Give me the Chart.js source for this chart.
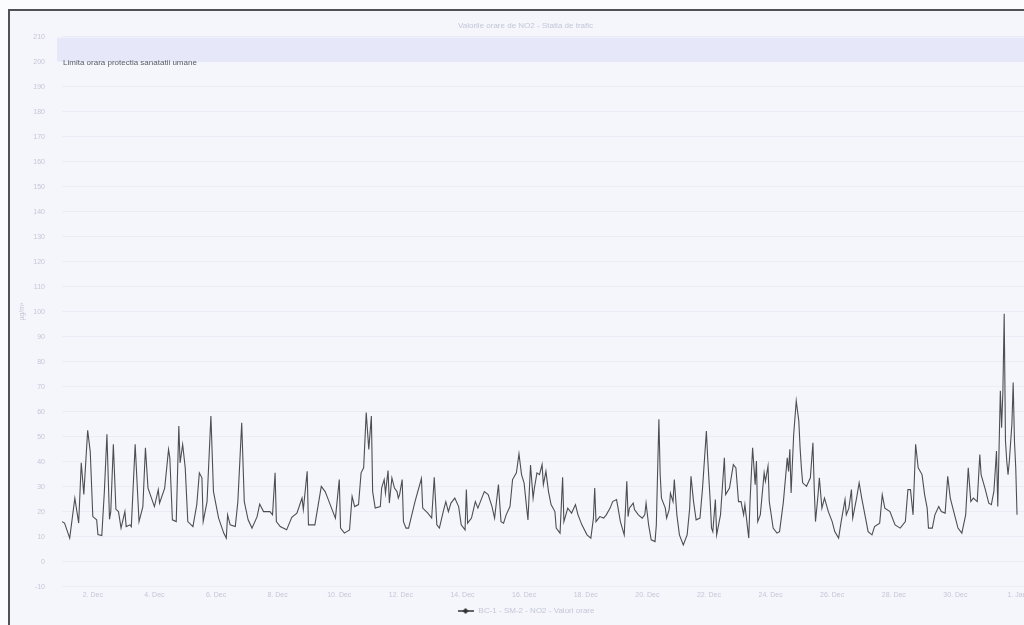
<!DOCTYPE html>
<html>
<head>
<meta charset="utf-8">
<script src="https://cdn.jsdelivr.net/npm/chart.js@4.4.1/dist/chart.umd.min.js"></script>
<style>
  html, body { margin: 0; padding: 0; width: 1024px; height: 625px; overflow: hidden; background: #fbfcfe; }
  #frame { position: absolute; left: 8px; top: 9px; right: -200px; bottom: -200px;
           border-left: 2px solid #505258; border-top: 2px solid #505258; background: #f4f6fc; }
  #wrap { position: absolute; left: 0; top: 0; width: 1050px; height: 625px; }
</style>
</head>
<body>
<div id="frame"></div>
<div id="wrap"><canvas id="c" width="1050" height="625"></canvas></div>
<script>
// ---- data ----
const chartTitle = "Valorile orare de NO2 - Statia de trafic";
const seriesName = "BC-1 - SM-2 - NO2 - Valori orare";
const yTitle = "µg/m³";
const limitLabel = "Limita orara protectia sanatatii umane";
const limitValue = 200;
const limitTop = 210;
const xTickHours = [24, 72, 120, 168, 216, 264, 312, 360, 408, 456, 504, 552, 600, 648, 696, 744];
const xTickLabels = ["2. Dec", "4. Dec", "6. Dec", "8. Dec", "10. Dec", "12. Dec", "14. Dec", "16. Dec",
                     "18. Dec", "20. Dec", "22. Dec", "24. Dec", "26. Dec", "28. Dec", "30. Dec", "1. Jan"];
// hours since 1 Dec 00:00
const hours = [0,2,6,10,13,15,17,20,22,24,27,28,31,33,35,37,38,40,42,44,46,49,50,53,54,57,60,63,65,67,72,75,76,80,83,84,86,89,91,92,94,96,98,102,105,107,109,110,113,116,118,122,126,128,129,131,135,137,140,142,145,148,152,154,157,162,164,166,167,170,175,179,183,187,188,191,192,197,202,205,207,211,213,216,217,220,224,226,228,231,233,235,237,239,241,242,244,248,249,251,252,254,255,257,259,261,262,263,265,266,268,270,275,280,281,285,288,290,292,294,297,299,301,303,306,309,311,314,315,316,319,322,324,327,329,332,335,337,340,342,344,346,349,351,354,356,358,360,362,363,365,367,368,370,372,374,375,377,379,381,384,385,388,390,391,394,397,400,402,405,409,412,414,415,416,419,422,424,427,429,432,433,435,438,440,441,442,445,446,449,452,454,455,457,459,462,463,465,466,467,470,471,473,474,476,477,479,481,484,487,489,490,492,494,497,499,502,503,505,506,507,509,510,513,516,517,520,523,525,527,529,531,532,535,536,538,540,541,542,544,547,548,550,551,554,557,559,562,565,566,567,568,570,572,574,575,576,577,580,583,585,586,587,589,590,592,594,597,600,602,605,607,610,611,613,615,616,619,621,623,626,628,631,633,637,639,641,645,649,653,657,659,661,663,665,667,670,672,674,675,678,680,683,685,688,690,692,695,698,701,704,706,708,710,713,715,716,719,722,724,726,728,729,731,732,733,734,735,736,737,738,740,741,742,743,744];
const values = [16,15.4,9.4,25.4,15.4,39.5,26.9,52.5,44,18,16.7,10.8,10.4,28,50.9,16.9,20,46.9,20.9,20,13.4,20,14,14.7,14,46.9,16,22,45.5,29.4,22,28.8,23.4,29.4,44.9,41.5,16.7,16,54.2,39.5,46.9,37.5,16,14,22.8,35.5,33.5,16,24,58.2,28,17.4,11.4,9.4,18.7,14.7,14,24,55.5,24,16.7,13.4,18,23,20,20,18.7,35.5,16,14,12.7,17.7,19.4,25.4,20.8,36.1,14.7,14.7,30.1,28,25.4,20,17.4,32.8,13.4,11.4,12.7,26.1,22,22.8,35.5,37.5,59.6,44.9,58.2,28,21.4,22,29.4,32.8,27.4,36.4,23.4,33.5,29.4,28,25.4,26.8,32.8,16,13.4,13.4,24,33.2,21.4,19.4,17.4,33.7,14.7,13.4,20,24,20,23.4,25.4,22,14.7,12.7,28.8,15.4,17.4,24,21.4,25.4,28,26.8,22,17.4,30.8,16,15.4,18.7,22,32.8,35.5,43.1,34.8,31.4,21.4,16.7,38.6,25.4,29.4,35.5,34.8,38.8,30.8,36.1,28,22.8,20,13.4,11.4,33.7,16,21.4,19.4,22.8,18.7,14.7,10.7,9.4,17.4,29.4,16,18,17.4,18.7,21.4,24,24.8,22,16,10.7,32.1,18,21.4,23.4,20.8,18.7,17.4,18.7,23.4,14.7,8.7,8,14.7,56.9,34.8,25.4,21.4,17.4,20.8,27.4,24,32.8,18.7,10.7,6.7,10.7,21.4,34.1,24,16.7,17.4,29.4,52.2,41.5,24,13.4,12,24.8,10.7,18.7,41.5,26.8,29.4,38.8,37.5,24,24,18.7,22.8,9.4,24,45.5,30.8,40.2,16,18.7,35.5,32.1,38.2,24,13.4,11.4,12,24,41.5,36.1,44.9,27.4,50.8,64.3,56.2,45.5,37.5,31.5,30.1,33.5,47.5,29.4,16,26.8,33.5,21.4,25.4,20,16,12,9.4,16,24.8,18.7,21.4,28.8,17.4,25.4,31.5,25.4,17.4,12,10.7,14,15.4,26.8,21.4,20,14.7,13.4,16,28.8,28.8,18.7,46.9,37.5,34.8,26.8,21.4,13.4,13.4,18.7,22,20,19.4,34.1,25.4,19.4,13.4,11.4,18.7,37.5,24,25.4,24,42.8,34.8,29.4,23.4,22.8,28.2,44.2,22,68.3,53.5,68.3,99.1,48.2,40.2,34.8,40.2,55,71.6,48.2,37.5,18.7];

const points = hours.map((h, i) => ({ x: h, y: values[i] }));

// legend symbol: line with a small diamond
const sym = document.createElement('canvas');
sym.width = 16; sym.height = 8;
(function () {
  const g = sym.getContext('2d');
  g.strokeStyle = '#333'; g.lineWidth = 1.5;
  g.beginPath(); g.moveTo(0, 4); g.lineTo(16, 4); g.stroke();
  g.fillStyle = '#333';
  g.beginPath(); g.moveTo(8, 1); g.lineTo(11, 4); g.lineTo(8, 7); g.lineTo(5, 4); g.closePath(); g.fill();
})();

const FONT = '"Liberation Sans", Arial, sans-serif';

const bandPlugin = {
  id: 'band',
  beforeDatasetsDraw(chart) {
    const { ctx, chartArea, scales: { y } } = chart;
    const yTop = y.getPixelForValue(limitTop);
    const yBot = y.getPixelForValue(limitValue);
    ctx.save();
    ctx.fillStyle = 'rgba(228,230,247,0.9)';
    ctx.fillRect(chartArea.left - 5, yTop + 1, chartArea.right - chartArea.left + 5, yBot - yTop - 1);
    ctx.font = '8px ' + FONT;
    ctx.fillStyle = '#5a5c66';
    ctx.textBaseline = 'middle';
    ctx.fillText(limitLabel, chartArea.left + 1, yBot + 1);
    ctx.restore();
  },
  afterDraw(chart) {
    const { ctx, chartArea } = chart;
    ctx.save();
    ctx.translate(22, (chartArea.top + chartArea.bottom) / 2);
    ctx.rotate(-Math.PI / 2);
    ctx.font = '7px ' + FONT;
    ctx.fillStyle = '#c4c7d6';
    ctx.textAlign = 'center';
    ctx.textBaseline = 'middle';
    ctx.fillText(yTitle, 0, 0);
    ctx.restore();
  }
};

new Chart(document.getElementById('c'), {
  type: 'line',
  data: {
    datasets: [{
      label: seriesName,
      data: points,
      borderColor: '#4e4e52',
      borderWidth: 1.1,
      pointRadius: 0,
      tension: 0,
      fill: false
    }]
  },
  options: {
    responsive: false,
    animation: false,
    layout: { padding: { left: 16, right: 15, top: 0, bottom: 0 } },
    plugins: {
      title: {
        display: true,
        text: chartTitle,
        color: '#c4c7d6',
        font: { family: FONT, size: 8, weight: 'normal' },
        padding: { top: 21, bottom: 6 }
      },
      legend: {
        position: 'bottom',
        labels: {
          usePointStyle: true,
          pointStyle: sym,
          pointStyleWidth: 18,
          color: '#c4c7d6',
          font: { family: FONT, size: 8 },
          padding: 4
        }
      },
      tooltip: { enabled: false }
    },
    scales: {
      x: {
        type: 'linear',
        min: 0,
        max: 758,
        afterBuildTicks(scale) { scale.ticks = xTickHours.map(v => ({ value: v })); },
        ticks: {
          autoSkip: false,
          maxRotation: 0,
          padding: 4,
          color: '#c4c7d6',
          font: { family: FONT, size: 7 },
          callback(v) { const i = xTickHours.indexOf(v); return i >= 0 ? xTickLabels[i] : ''; }
        },
        grid: { display: false, drawTicks: false },
        border: { display: false }
      },
      y: {
        min: -10,
        max: 210,
        afterFit(scale) { scale.width = 46; },
        ticks: {
          stepSize: 10,
          padding: 17,
          color: '#c4c7d6',
          font: { family: FONT, size: 7 }
        },
        grid: { color: 'rgba(225,228,240,0.5)', drawTicks: false },
        border: { display: false }
      }
    }
  },
  plugins: [bandPlugin]
});
</script>
</body>
</html>
